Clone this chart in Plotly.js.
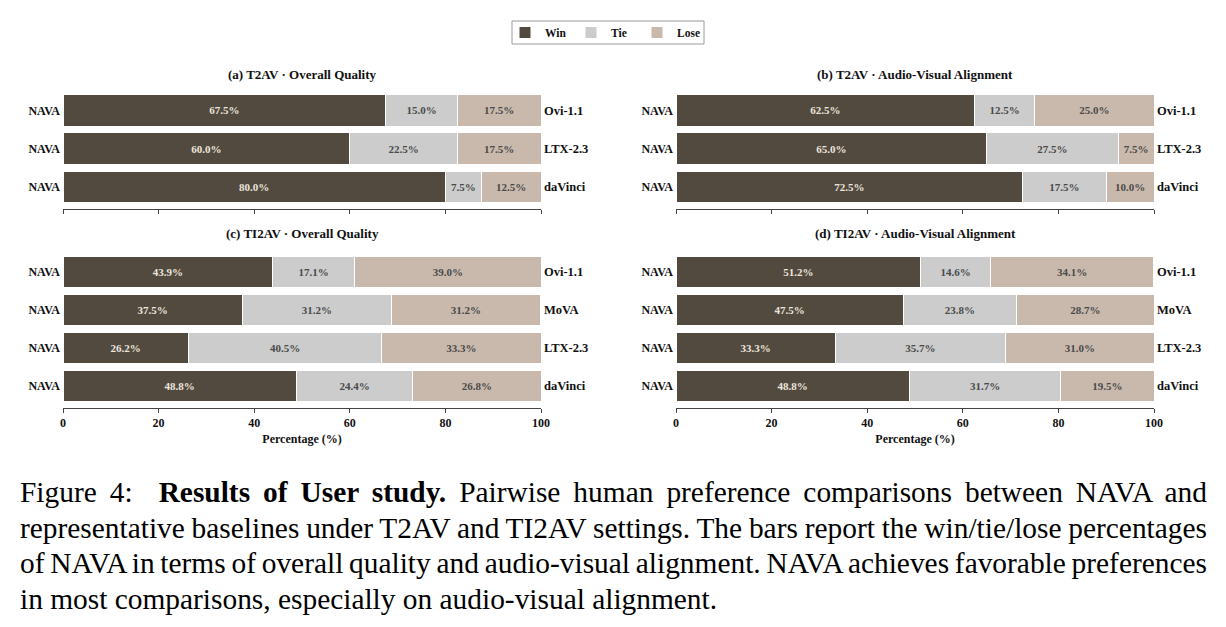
<!DOCTYPE html>
<html>
<head>
<meta charset="utf-8">
<script src="https://cdn.plot.ly/plotly-3.0.1.min.js"></script>
<style>
  html, body { margin: 0; padding: 0; background: #fff; }
  #wrap { position: relative; width: 1226px; height: 627px; overflow: hidden; }
  #chart { position: absolute; left: 0; top: 0; width: 1226px; height: 627px; }
  #caption { position: absolute; left: 20px; top: 475px; width: 1187px;
    font-family: "Liberation Serif", "Times New Roman", serif; font-size: 29.4px; line-height: 35.5px; color: #000; }
  #caption .ln { display: block; text-align: justify; text-align-last: justify; white-space: nowrap; word-spacing: -2.5px; }
  #caption .ln.last { text-align-last: left; word-spacing: 0; }
</style>
</head>
<body>
<div id="wrap">
  <div id="chart"></div>
  <div id="caption">
    <span class="ln">Figure 4:&nbsp; <b>Results of User study.</b> Pairwise human preference comparisons between NAVA and</span>
    <span class="ln">representative baselines under T2AV and TI2AV settings. The bars report the win/tie/lose percentages</span>
    <span class="ln">of NAVA in terms of overall quality and audio-visual alignment. NAVA achieves favorable preferences</span>
    <span class="ln last">in most comparisons, especially on audio-visual alignment.</span>
  </div>
</div>
<script>
// ---- data ----
const titlesPanels = ["(a) T2AV · Overall Quality", "(b) T2AV · Audio-Visual Alignment",
                      "(c) TI2AV · Overall Quality", "(d) TI2AV · Audio-Visual Alignment"];
const opponentsT2AV = ["Ovi-1.1", "LTX-2.3", "daVinci"];
const opponentsTI2AV = ["Ovi-1.1", "MoVA", "LTX-2.3", "daVinci"];
const ourModel = "NAVA";

const winA = [67.5, 60.0, 80.0];
const tieA = [15.0, 22.5, 7.5];
const loseA = [17.5, 17.5, 12.5];

const winB = [62.5, 65.0, 72.5];
const tieB = [12.5, 27.5, 17.5];
const loseB = [25.0, 7.5, 10.0];

const winC = [43.9, 37.5, 26.2, 48.8];
const tieC = [17.1, 31.2, 40.5, 24.4];
const loseC = [39.0, 31.2, 33.3, 26.8];

const winD = [51.2, 47.5, 33.3, 48.8];
const tieD = [14.6, 23.8, 35.7, 31.7];
const loseD = [34.1, 28.7, 31.0, 19.5];

const xTicks = [0, 20, 40, 60, 80, 100];
const xTitle = "Percentage (%)";
const seriesNames = ["Win", "Tie", "Lose"];

// ---- style ----
const FONT = "Liberation Serif, Times New Roman, serif";
const colors = ["#524a3f", "#cccccc", "#c9b9ac"];
const textColors = ["#ece5dd", "#4a4a4a", "#4a4a4a"];
const W = 1226, H = 627;
const px = v => v / W;
const py = v => 1 - v / H;

const panels = [
  {opp: opponentsT2AV, vals: [winA, tieA, loseA], xd: [px(63), px(541)], yd: [py(209), py(91.2)], range: [2.58, -0.5], bottom: false},
  {opp: opponentsT2AV, vals: [winB, tieB, loseB], xd: [px(676), px(1154)], yd: [py(209), py(91.2)], range: [2.58, -0.5], bottom: false},
  {opp: opponentsTI2AV, vals: [winC, tieC, loseC], xd: [px(63), px(541)], yd: [py(408), py(253)], range: [3.58, -0.5], bottom: true},
  {opp: opponentsTI2AV, vals: [winD, tieD, loseD], xd: [px(676), px(1154)], yd: [py(408), py(253)], range: [3.58, -0.5], bottom: true}
];
const titleY = [75, 75, 233, 233];

const traces = [];
const layout = {
  width: W, height: H,
  margin: {l: 0, r: 0, t: 0, b: 0},
  paper_bgcolor: "#ffffff", plot_bgcolor: "#ffffff",
  barmode: "stack",
  font: {family: FONT, color: "#111"},
  showlegend: true,
  legend: {orientation: "h", x: px(505), xanchor: "left", y: py(18), yanchor: "top",
           borderwidth: 0, bgcolor: "rgba(0,0,0,0)",
           font: {family: FONT, size: 11.5, weight: "bold", color: "#111"},
           entrywidth: 21, entrywidthmode: "pixels", tracegroupgap: 0},
  shapes: [{type: "rect", xref: "paper", yref: "paper",
            x0: px(512), x1: px(704), y0: py(44), y1: py(21),
            line: {color: "#9a9a9a", width: 1}, fillcolor: "rgba(0,0,0,0)", layer: "below"}],
  annotations: [],
  uniformtext: {mode: false}
};

panels.forEach((p, i) => {
  const k = i + 1;
  const xa = k === 1 ? "x" : "x" + k;
  const ya = k === 1 ? "y" : "y" + k;
  const pos = p.opp.map((_, j) => j);
  p.vals.forEach((arr, s) => {
    traces.push({
      type: "bar", orientation: "h",
      x: arr, y: pos, xaxis: xa, yaxis: ya,
      name: seriesNames[s], legendgroup: seriesNames[s], showlegend: i === 0,
      width: 0.82,
      marker: {color: colors[s], line: {color: "#ffffff", width: 1}},
      texttemplate: "%{x:.1f}%", textposition: "inside", insidetextanchor: "middle",
      constraintext: "none", textangle: 0,
      textfont: {family: FONT, size: 11, weight: "bold", color: textColors[s]},
      hoverinfo: "skip"
    });
  });
  const xKey = k === 1 ? "xaxis" : "xaxis" + k;
  const yKey = k === 1 ? "yaxis" : "yaxis" + k;
  layout[xKey] = {
    domain: p.xd, anchor: ya, range: [0, 100], fixedrange: true,
    tickmode: "array", tickvals: xTicks, ticktext: xTicks.map(String),
    ticks: "outside", ticklen: 4, tickcolor: "#444", tickwidth: 1,
    showline: true, linecolor: "#444", linewidth: 1, mirror: false,
    showgrid: false, zeroline: false,
    showticklabels: p.bottom,
    tickfont: {family: FONT, size: 12, weight: "bold", color: "#111"},
    title: p.bottom ? {text: xTitle, standoff: 5, font: {family: FONT, size: 12, weight: "bold", color: "#111"}} : {text: ""}
  };
  layout[yKey] = {
    domain: p.yd, anchor: xa, range: p.range, fixedrange: true,
    tickmode: "array", tickvals: pos, ticktext: pos.map(() => ourModel),
    ticks: "", showline: false, showgrid: false, zeroline: false, ticklabelstandoff: 2,
    tickfont: {family: FONT, size: 12, weight: "bold", color: "#111"}
  };
  layout["yaxis" + (k + 4)] = {
    overlaying: ya, side: "right", anchor: xa, range: p.range, fixedrange: true,
    tickmode: "array", tickvals: pos, ticktext: p.opp,
    ticks: "", showline: false, showgrid: false, zeroline: false, ticklabelstandoff: 2,
    tickfont: {family: FONT, size: 12.5, weight: "bold", color: "#111"}
  };
  layout.annotations.push({
    text: titlesPanels[i], xref: "paper", yref: "paper",
    x: (p.xd[0] + p.xd[1]) / 2, y: py(titleY[i]), xanchor: "center", yanchor: "middle",
    showarrow: false, font: {family: FONT, size: 13, weight: "bold", color: "#111"}
  });
});

// invisible traces anchoring the right-hand label axes
panels.forEach((p, i) => {
  const k = i + 1;
  traces.push({type: "scatter", mode: "none", x: [null], y: [null],
    xaxis: k === 1 ? "x" : "x" + k, yaxis: "y" + (k + 4), showlegend: false, hoverinfo: "skip"});
});

Plotly.newPlot("chart", traces, layout, {staticPlot: true, displayModeBar: false});
</script>
</body>
</html>
